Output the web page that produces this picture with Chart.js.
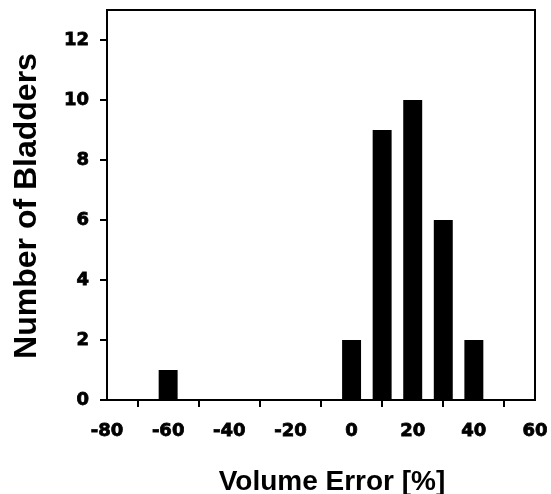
<!DOCTYPE html>
<html>
<head>
<meta charset="utf-8">
<script src="https://cdn.jsdelivr.net/npm/chart.js@4"></script>
<style>
  html, body { margin: 0; padding: 0; background: #fff; }
  #wrap { width: 551px; height: 494px; }
</style>
</head>
<body>
<div id="wrap"><canvas id="hist"></canvas></div>
<script>
'use strict';

// histogram of volume error, one bar per 10% bin
const binCentres = [-60, 0, 10, 20, 30, 40];
const bladderCounts = [1, 2, 9, 10, 6, 2];
const xTitle = 'Volume Error [%]';
const yTitle = 'Number of Bladders';

const FONT = '"Liberation Sans", Arial, sans-serif';
const TICK_FONT = '"DejaVu Sans", Verdana, sans-serif';

var points = [];
for (let i = 0; i < binCentres.length; i++) {
  points.push({x: binCentres[i], y: bladderCounts[i]});
}

// box round the plot plus the two axis titles
const frameAndTitles = {
  id: 'frameAndTitles',
  afterDraw: (chart) => {
    const ctx = chart.ctx;
    const a = chart.chartArea;
    ctx.save();
    ctx.strokeStyle = '#000';
    ctx.lineWidth = 2;
    ctx.strokeRect(a.left, a.top, a.right - a.left, a.bottom - a.top);

    ctx.fillStyle = '#000';
    ctx.textAlign = 'center';
    ctx.textBaseline = 'alphabetic';
    ctx.font = 'bold 28px ' + FONT;
    ctx.fillText(xTitle, a.left + (a.right - a.left) / 2 + 11, 490);

    ctx.font = 'bold 32px ' + FONT;
    ctx.translate(36, a.top + (a.bottom - a.top) / 2 + 1);
    ctx.rotate(-Math.PI / 2);
    ctx.fillText(yTitle, 0, 0);
    ctx.restore();
  }
};

// drop the label overhang padding so the plot box keeps its fixed size
var noOverhang = (s) => {
  s.paddingTop = 0;
  s.paddingBottom = 0;
  s.paddingLeft = 0;
  s.paddingRight = 0;
};

var tickStyle = {
  color: '#000',
  textStrokeColor: '#000',
  textStrokeWidth: 0.8,
  font: { family: TICK_FONT, size: 18, weight: 'bold' }
};

var config = {
  type: 'bar',
  data: {
    datasets: [{
      data: points,
      backgroundColor: '#000',
      borderWidth: 0,
      barPercentage: 0.62,
      categoryPercentage: 1
    }]
  },
  options: {
    responsive: false,
    animation: false,
    devicePixelRatio: 1,
    layout: { padding: { top: 10, right: 16, left: 0, bottom: 0 } },
    plugins: { legend: { display: false }, tooltip: { enabled: false } },
    scales: {
      x: {
        type: 'linear',
        offset: false,
        min: -80,
        max: 60,
        afterFit: (s) => { s.height = 94; noOverhang(s); },
        border: { color: '#000', width: 2 },
        grid: { drawOnChartArea: false, drawTicks: true, tickLength: 7, color: '#000', lineWidth: 2 },
        ticks: Object.assign({ stepSize: 20, padding: 14, maxRotation: 0 }, tickStyle)
      },
      y: {
        min: 0,
        max: 13,
        afterFit: (s) => { s.width = 107; noOverhang(s); },
        afterBuildTicks: (s) => { s.ticks = s.ticks.filter(t => t.value <= 12); },
        border: { color: '#000', width: 2 },
        grid: { drawOnChartArea: false, drawTicks: true, tickLength: 7, color: '#000', lineWidth: 2 },
        ticks: Object.assign({ stepSize: 2, padding: 11 }, tickStyle)
      }
    }
  },
  plugins: [frameAndTitles]
};

window.onload = function() {
  const canvas = document.getElementById('hist');
  canvas.width = 551;
  canvas.height = 494;
  window.hist = new Chart(canvas.getContext('2d'), config);
};
</script>
</body>
</html>
